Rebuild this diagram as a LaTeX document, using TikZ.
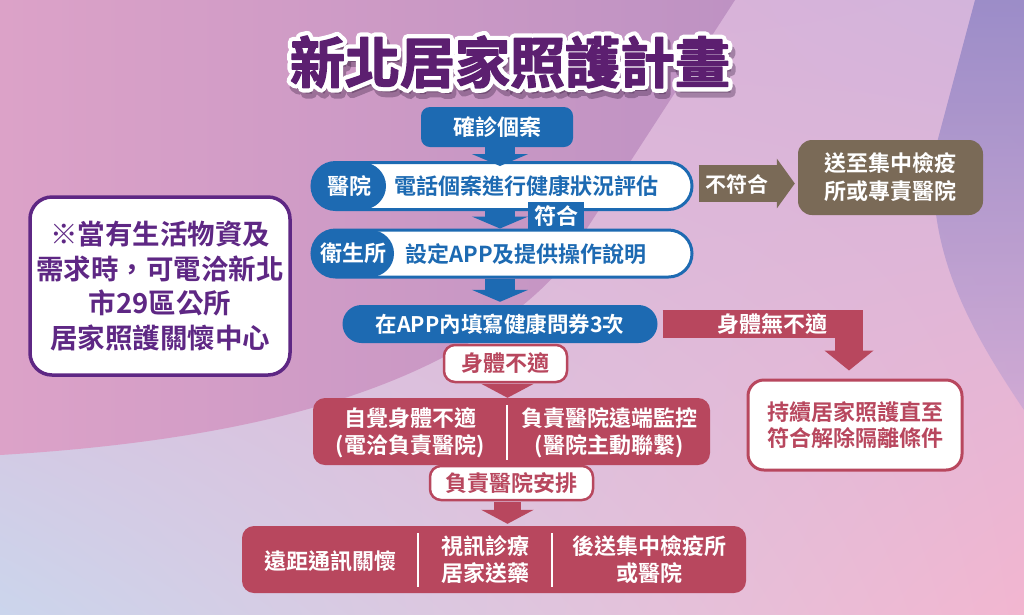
\documentclass[tikz,border=0pt]{standalone}
\usepackage{fontspec}
\setmainfont{Noto Sans CJK TC}[BoldFont=* Bold]
\newfontfamily\titleW{Noto Sans CJK TC}[UprightFont=* Bold, FakeBold=18]
\newfontfamily\titleP{Noto Sans CJK TC}[UprightFont=* Bold, FakeBold=2.5]
\usetikzlibrary{arrows.meta,calc,shadings}
\definecolor{cblue}{HTML}{1D6AB2}
\definecolor{cred}{HTML}{B8475E}
\definecolor{cbrown}{HTML}{7A6A57}
\definecolor{cpurple}{HTML}{5C1F70}
\definecolor{cnote}{HTML}{5E2784}
\definecolor{bgUL}{HTML}{E6B0D2}
\definecolor{bgUR}{HTML}{D2B4DC}
\definecolor{bgLL}{HTML}{CBD5EC}
\definecolor{bgLR}{HTML}{F2B6D0}
\definecolor{mauveL}{HTML}{DCA2C8}
\definecolor{mauveR}{HTML}{BE92C3}
\definecolor{cornerT}{HTML}{8A80C2}
\definecolor{cornerB}{HTML}{C8A6D4}
\begin{document}
\begin{tikzpicture}[x=1pt,y=-1pt,
  every node/.style={font=\bfseries\fontsize{22}{27}\selectfont, inner sep=0pt, align=center},
  bluefill/.style={fill=cblue, text=white},
  whitebox/.style={fill=white, draw=cblue, line width=3pt, rounded corners=23.5pt},
  redfill/.style={fill=cred, text=white, rounded corners=12pt},
  redlabel/.style={fill=white, draw=cred, line width=2.5pt, text=cred, rounded corners=11pt},
  divider/.style={draw=white, line width=2pt},
  bluearrow/.style={draw=cblue, line width=30pt, -{Triangle[width=56pt,length=12pt]}},
  redarrow/.style={draw=cred, line width=27pt, -{Triangle[width=52pt,length=14pt]}},
]
\useasboundingbox (0,0) rectangle (1024,614);
% background
\shade[upper left=bgUL, upper right=bgUR, lower left=bgLL, lower right=bgLR] (0,0) rectangle (1024,614);
\shade[left color=mauveL, right color=mauveR] (0,0) -- (735,0) -- (560,270) .. controls (450,390) and (250,440) .. (0,455) -- cycle;
\shade[top color=cornerT, bottom color=cornerB, opacity=0.75] (975,0) -- (1024,0) -- (1024,410) .. controls (970,330) and (925,250) .. (935,150) -- cycle;

% title
\begin{scope}[line join=round, line cap=round]
\node[font=\titleW\fontsize{55}{60}\selectfont, text=black!60!cpurple, opacity=0.3] (titleshadow) at (513,68) {新北居家照護計畫};
\node[font=\titleW\fontsize{55}{60}\selectfont, text=white] (titleoutline) at (510,62) {新北居家照護計畫};
\node[font=\titleP\fontsize{55}{60}\selectfont, text=cpurple] (title) at (510,62) {新北居家照護計畫};
\end{scope}

% left note
\node[fill=white, draw=cnote, line width=3.5pt, rounded corners=22pt, minimum width=260pt, minimum height=178pt] (notebox) at (160,286) {};
\node[text=cnote, font=\bfseries\fontsize{27.5}{34.7}\selectfont] (notetxt) at (160,286) {※當有生活物資及\\需求時，可電洽新北\\市29區公所\\居家照護關懷中心};

% blue flow
\node[bluefill, rounded corners=9pt, minimum width=152pt, minimum height=40pt] (confirm) at (497,127) {確診個案};
\node[whitebox, minimum width=380pt, minimum height=47pt] (b1) at (502,186) {};
\node[bluefill, rounded corners=23.5pt, minimum width=74pt, minimum height=47pt] (p1) at (349,186) {醫院};
\node[text=cblue] (t1) at (526,186) {電話個案進行健康狀況評估};

\node[whitebox, minimum width=380pt, minimum height=47pt] (b2) at (502,253.5) {};
\node[bluefill, rounded corners=23.5pt, minimum width=82pt, minimum height=47pt] (p2) at (353,253.5) {衛生所};
\node[text=cblue] (t2) at (526,254) {設定APP及提供操作說明};

\node[bluefill, rounded corners=19pt, minimum width=315pt, minimum height=38pt, font=\bfseries\fontsize{21.5}{25}\selectfont] (app) at (500,324) {在APP內填寫健康問券3次};

\draw[bluearrow, shorten >=-5pt] ($(confirm.south)+(3,0)$) -- ($(confirm.south |- b1.north)+(3,0)$);
\draw[bluearrow] ($(b1.south)+(-2,0)$) -- ($(b1.south |- b2.north)+(-2,0)$);
\node[bluefill, minimum width=56pt, minimum height=29pt] (ok) at (556,216) {符合};
\draw[bluearrow, shorten >=3pt] ($(b2.south)+(-2,0)$) -- ($(b2.south |- app.north)+(-2,0)$);

% not qualified
\node[fill=cbrown, text=white, rounded corners=14pt, minimum width=185pt, minimum height=75pt, font=\bfseries\fontsize{22}{28}\selectfont] (nope) at (890.5,177.5) {送至集中檢疫\\所或專責醫院};
\draw[draw=cbrown, line width=37pt, -{Triangle[width=49pt,length=18pt]}] ($(b1.east)+(5,-2.5)$) -- ($(nope.west)+(-3,6)$);
\node[text=white, font=\bfseries\fontsize{21}{25}\selectfont] (nopelbl) at (737,184) {不符合};

% no discomfort
\node[fill=white, draw=cred, line width=3pt, text=cred, rounded corners=16pt, minimum width=214pt, minimum height=90pt, font=\bfseries\fontsize{22}{26}\selectfont] (keep) at (855,425) {持續居家照護直至\\符合解除隔離條件};
\draw[draw=cred, line width=28pt, line join=miter, -{Triangle[width=48pt,length=20pt]}] ($(app.east)+(5,0)$) -| ($(keep.north)+(-6,-8)$);
\node[text=white] (finelbl) at (772,324) {身體無不適};

% discomfort branch
\node[redlabel, minimum width=123pt, minimum height=37pt] (unwell) at (505.5,363.5) {身體不適};
\node[redfill, minimum width=397pt, minimum height=67pt] (r1) at (511.5,431.5) {};
\draw[redarrow] ($(unwell.south)+(2,1)$) -- ($(unwell.south |- r1.north)+(2,0)$);
\draw[divider] ($(r1.north)+(-4.5,7)$) -- ($(r1.south)+(-4.5,-5)$);
\node[text=white] (r1l) at (410,433) {自覺身體不適\\(電洽負責醫院)};
\node[text=white] (r1r) at (609,433) {負責醫院遠端監控\\(醫院主動聯繫)};

\node[redlabel, minimum width=163pt, minimum height=34pt] (arrange) at (511.5,483) {負責醫院安排};
\node[redfill, minimum width=504pt, minimum height=67pt] (r2) at (494,559.5) {};
\draw[redarrow, shorten >=2pt] ($(arrange.south)+(-4,1)$) -- ($(arrange.south |- r2.north)+(-4,0)$);
\coordinate (d1t) at (418,533); \coordinate (d1b) at (418,587);
\coordinate (d2t) at (552,533); \coordinate (d2b) at (552,587);
\draw[divider] (d1t) -- (d1b);
\draw[divider] (d2t) -- (d2b);
\node[text=white] (s1) at (330,561) {遠距通訊關懷};
\node[text=white] (s2) at (485,560) {視訊診療\\居家送藥};
\node[text=white] (s3) at (649,560) {後送集中檢疫所\\或醫院};
\end{tikzpicture}
\end{document}
